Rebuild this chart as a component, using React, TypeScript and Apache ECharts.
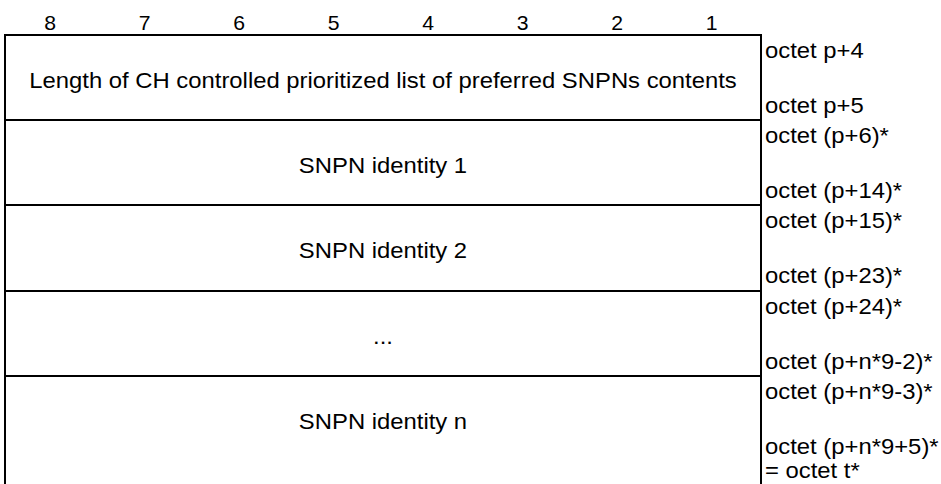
import React, { useEffect, useRef } from "react";
import * as echarts from "echarts";

const bitLabels = ["8", "7", "6", "5", "4", "3", "2", "1"];
const rowTexts = [
  "Length of CH controlled prioritized list of preferred SNPNs contents",
  "SNPN identity 1",
  "SNPN identity 2",
  "...",
  "SNPN identity n",
];
const octetLabels = [
  ["octet p+4", "", "octet p+5"],
  ["octet (p+6)*", "", "octet (p+14)*"],
  ["octet (p+15)*", "", "octet (p+23)*"],
  ["octet (p+24)*", "", "octet (p+n*9-2)*"],
  ["octet (p+n*9-3)*", "", "octet (p+n*9+5)*", "= octet t*"],
];
const rowLineCounts = [3, 3, 3, 3, 4];

const FONT = "'Liberation Sans', Arial, Helvetica, sans-serif";

export default function App() {
  const ref = useRef<HTMLDivElement>(null);
  useEffect(() => {
    if (!ref.current) return;
    const chart = echarts.init(ref.current, null, { renderer: "svg" });
    const left = 5;
    const right = 761;
    const top = 35;
    const lineH = 28.4;
    const bottom = 500;
    const colW = (right - left) / bitLabels.length;
    const fs = 22.5;
    const sx = 1.06;
    const els: any[] = [];

    bitLabels.forEach((b, i) => {
      els.push({
        type: "text",
        x: left + colW * (i + 0.5) - 2,
        y: 22.5,
        scaleX: sx,
        style: { text: b, fontSize: 20, fontFamily: FONT, fill: "#000", align: "center", verticalAlign: "middle" },
      });
    });

    let y = top;
    const rowTops: number[] = [];
    rowLineCounts.forEach((n) => {
      rowTops.push(Math.round(y));
      y += n * lineH;
    });

    rowTops.forEach((ry) => {
      els.push({ type: "line", shape: { x1: left - 1, y1: ry, x2: right + 1, y2: ry }, style: { stroke: "#000", lineWidth: 2 } });
    });
    [left, right].forEach((x) => {
      els.push({ type: "line", shape: { x1: x, y1: top - 1, x2: x, y2: bottom }, style: { stroke: "#000", lineWidth: 2 } });
    });

    rowTexts.forEach((t, i) => {
      const ry = rowTops[i];
      els.push({
        type: "text",
        x: (left + right) / 2,
        y: ry + 1.5 * lineH + 2.5,
        scaleX: sx,
        style: { text: t, fontSize: fs, fontFamily: FONT, fill: "#000", align: "center", verticalAlign: "middle" },
      });
      octetLabels[i].forEach((lab, k) => {
        if (!lab) return;
        const ly = Math.min(ry + 23 + k * 27.3 - 7.5, 470);
        els.push({
          type: "text",
          x: right + 4,
          y: ly,
          scaleX: sx,
          style: { text: lab, fontSize: fs, lineHeight: 19, fontFamily: FONT, fill: "#000", align: "left", verticalAlign: "middle" },
        });
      });
    });

    chart.setOption({
      animation: false,
      backgroundColor: "#fff",
      graphic: { elements: els },
    });
    return () => chart.dispose();
  }, []);
  return (
    <div
      ref={ref}
      style={{ position: "fixed", left: 0, top: 0, width: 941, height: 484, background: "#fff" }}
    />
  );
}
